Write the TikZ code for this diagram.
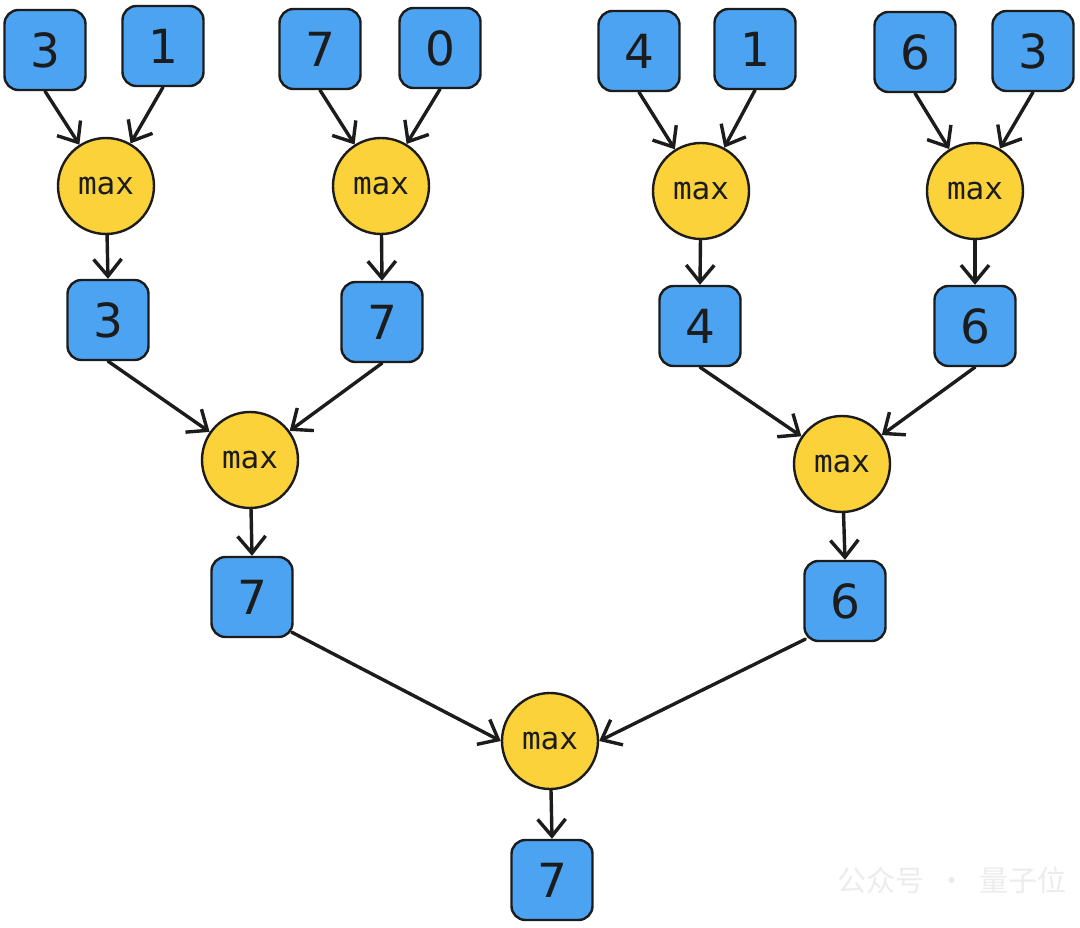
\documentclass[tikz,border=0pt]{standalone}
\usepackage{fontspec}
\setmainfont{DejaVu Sans}
\newfontfamily\monof{DejaVu Sans Mono}
\newfontfamily\cjk{Noto Sans CJK SC}
\usetikzlibrary{arrows.meta}
\definecolor{boxblue}{HTML}{4BA3F2}
\definecolor{maxyellow}{HTML}{FCD23A}
\definecolor{edgec}{HTML}{1C1C1C}
\begin{document}
\begin{tikzpicture}[x=1pt,y=-1pt,
  valbox/.style={draw=edgec,line width=2.4pt,fill=boxblue,rounded corners=14pt,
    minimum width=81pt,minimum height=80pt,inner sep=0pt,
    font=\fontsize{47}{47}\selectfont,text=edgec},
  maxnode/.style={draw=edgec,line width=2.4pt,fill=maxyellow,circle,
    minimum size=96pt,inner sep=0pt,font=\monof\fontsize{31}{31}\selectfont,text=edgec},
  conn/.style={draw=edgec,line width=3.4pt,line cap=round,
    -{Straight Barb[length=17pt,width=28pt,line width=3.4pt]}}]
\useasboundingbox (0,0) rectangle (1080,928);
\fill[white] (0,0) rectangle (1080,928);
% top row
\node[valbox] (a1) at (45,50) {3};
\node[valbox] (a2) at (163,46) {1};
\node[valbox] (a3) at (320,49) {7};
\node[valbox] (a4) at (440,48) {0};
\node[valbox] (a5) at (639,51) {4};
\node[valbox] (a6) at (755,49) {1};
\node[valbox] (a7) at (915,52) {6};
\node[valbox] (a8) at (1033,51) {3};
% first max row
\node[maxnode] (m1) at (106,186) {max};
\node[maxnode] (m2) at (381,186) {max};
\node[maxnode] (m3) at (701,191) {max};
\node[maxnode] (m4) at (975,191) {max};
% second value row
\node[valbox] (b1) at (108,320) {3};
\node[valbox] (b2) at (382,322) {7};
\node[valbox] (b3) at (700,326) {4};
\node[valbox] (b4) at (975,326) {6};
% second max row
\node[maxnode] (m5) at (250,460) {max};
\node[maxnode] (m6) at (842,464) {max};
% third value row
\node[valbox] (c1) at (252,597) {7};
\node[valbox] (c2) at (845,601) {6};
% final
\node[maxnode] (m7) at (550,741) {max};
\node[valbox] (d1) at (552,880) {7};
% watermark
\node[text=gray!15,font=\cjk\fontsize{29}{29}\selectfont,anchor=west] (wm) at (834,880) {公众号 ~·~ 量子位};
% connectors
\draw[conn] (a1.south) -- (m1);
\draw[conn] (a2.south) -- (m1);
\draw[conn] (a3.south) -- (m2);
\draw[conn] (a4.south) -- (m2);
\draw[conn] (a5.south) -- (m3);
\draw[conn] (a6.south) -- (m3);
\draw[conn] (a7.south) -- (m4);
\draw[conn] (a8.south) -- (m4);
\draw[conn] (m1) -- (b1.north);
\draw[conn] (m2) -- (b2.north);
\draw[conn] (m3) -- (b3.north);
\draw[conn] (m4) -- (b4.north);
\draw[conn] (b1.south) -- (m5);
\draw[conn] (b2.south) -- (m5);
\draw[conn] (b3.south) -- (m6);
\draw[conn] (b4.south) -- (m6);
\draw[conn] (m5) -- (c1.north);
\draw[conn] (m6) -- (c2.north);
\draw[conn] ([xshift=-2pt,yshift=6pt]c1.south east) -- (m7.west);
\draw[conn] ([xshift=2pt,yshift=3pt]c2.south west) -- (m7.east);
\draw[conn] (m7) -- (d1.north);
\end{tikzpicture}
\end{document}
